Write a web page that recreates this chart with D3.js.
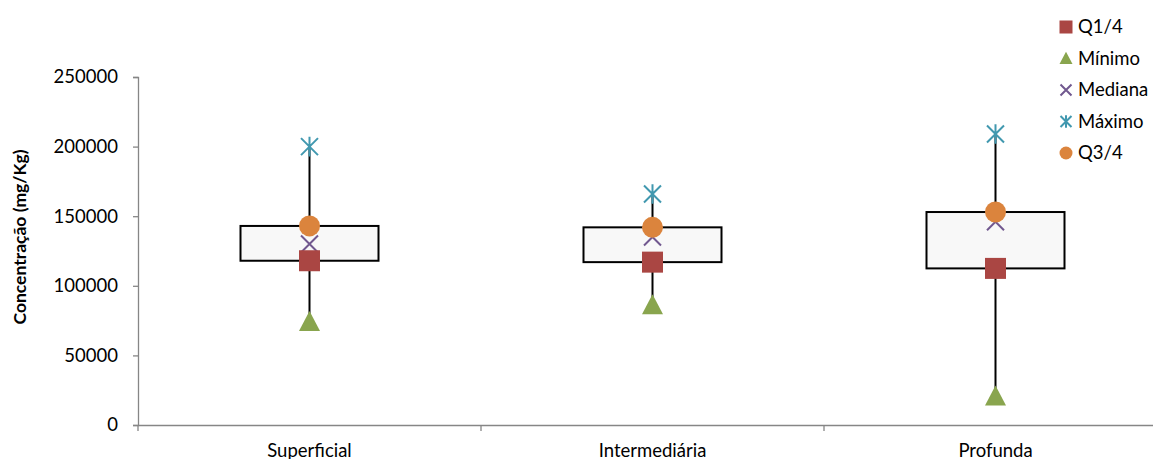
<!DOCTYPE html>
<html><head><meta charset="utf-8">
<script src="https://cdn.jsdelivr.net/npm/d3@7"></script>
<style>body{margin:0;background:#fff}svg{display:block}text{font-family:Lato,"Open Sans",sans-serif}</style>
</head><body><svg id="c" width="1153" height="459"></svg>
<script>
const categories = ["Superficial", "Intermediária", "Profunda"];
const q1 = [118000, 117000, 112500];
const minimo = [74000, 86000, 20500];
const mediana = [130000, 135000, 146000];
const maximo = [200000, 166000, 209000];
const q3 = [143000, 142000, 153000];
const yTicks = [0, 50000, 100000, 150000, 200000, 250000];
const seriesNames = ["Q1/4", "Mínimo", "Mediana", "Máximo", "Q3/4"];
const seriesColors = ["#AA4643", "#89A54E", "#71588F", "#4198AF", "#DB843D"];

const svg = d3.select("#c");
const x = d3.scaleBand().domain(categories).range([138, 1167]);
const y = d3.scaleLinear().domain([0, 250000]).range([425, 77]);
const axisColor = "#868686";
const fs = 18.5;

// y axis
const ya = svg.append("g").attr("transform", "translate(138,0)")
  .call(d3.axisLeft(y).tickValues(yTicks).tickSize(5).tickPadding(15).tickFormat(d3.format("d")));
ya.select(".domain").attr("stroke", axisColor).attr("stroke-width", 1.3);
ya.selectAll(".tick line").attr("stroke", axisColor).attr("stroke-width", 1.3);
ya.selectAll("text").attr("font-size", fs).attr("fill", "#000");

// x axis
const xa = svg.append("g").attr("transform", "translate(0,425)")
  .call(d3.axisBottom(x).tickSize(0).tickPadding(19));
xa.select(".domain").attr("stroke", axisColor).attr("stroke-width", 1.3);
xa.selectAll("text").attr("font-size", fs).attr("fill", "#000");
const bounds = categories.map(c => x(c));
svg.selectAll(".xt").data(bounds).join("line")
  .attr("x1", d => d).attr("x2", d => d).attr("y1", 425).attr("y2", 431)
  .attr("stroke", axisColor).attr("stroke-width", 1.3);

// y title
svg.append("text").attr("transform", "translate(26,237) rotate(-90)")
  .attr("text-anchor", "middle").attr("font-size", 17.5).attr("font-weight", "bold")
  .text("Concentração (mg/Kg)");

const cx = c => x(c) + x.bandwidth() / 2;
const boxW = 138;
const g = svg.append("g");
categories.forEach((c, i) => {
  g.append("line").attr("x1", cx(c)).attr("x2", cx(c))
    .attr("y1", y(minimo[i])).attr("y2", y(maximo[i]))
    .attr("stroke", "#000").attr("stroke-width", 2);
  g.append("rect").attr("x", cx(c) - boxW / 2).attr("width", boxW)
    .attr("y", y(q3[i])).attr("height", y(q1[i]) - y(q3[i]))
    .attr("fill", "#f8f8f8").attr("stroke", "#000").attr("stroke-width", 2);
});

function marker(sel, type, px, py, s, color) {
  if (type === 0) {
    sel.append("rect").attr("x", px - s / 2).attr("y", py - s / 2).attr("width", s).attr("height", s).attr("fill", color);
  } else if (type === 1) {
    const h = s * 0.95;
    sel.append("path").attr("d", `M${px},${py - h * 0.55}L${px + s / 2},${py + h * 0.45}L${px - s / 2},${py + h * 0.45}Z`).attr("fill", color);
  } else if (type === 2) {
    const r = s / 2;
    sel.append("path").attr("d", `M${px - r},${py - r}L${px + r},${py + r}M${px - r},${py + r}L${px + r},${py - r}`)
      .attr("stroke", color).attr("stroke-width", 2).attr("fill", "none");
  } else if (type === 3) {
    const r = s / 2;
    sel.append("path").attr("d", `M${px - r},${py - r}L${px + r},${py + r}M${px - r},${py + r}L${px + r},${py - r}M${px},${py - r * 1.15}L${px},${py + r * 1.15}`)
      .attr("stroke", color).attr("stroke-width", 2).attr("fill", "none");
  } else {
    sel.append("circle").attr("cx", px).attr("cy", py).attr("r", s / 2).attr("fill", color);
  }
}

const seriesData = [q1, minimo, mediana, maximo, q3];
const sizes = [21, 21, 17, 17, 21];
const order = [2, 0, 1, 3, 4];
order.forEach(si => {
  categories.forEach((c, i) => marker(g, si, cx(c), y(seriesData[si][i]), sizes[si], seriesColors[si]));
});

// legend
const leg = svg.append("g");
const legSizes = [13, 13, 11, 11, 13];
seriesNames.forEach((n, i) => {
  const ly = 27 + i * 31.5;
  marker(leg, i, 1066, ly, legSizes[i], seriesColors[i]);
  leg.append("text").attr("x", 1078).attr("y", ly).attr("dy", "0.35em").attr("font-size", fs).text(n);
});
</script></body></html>
